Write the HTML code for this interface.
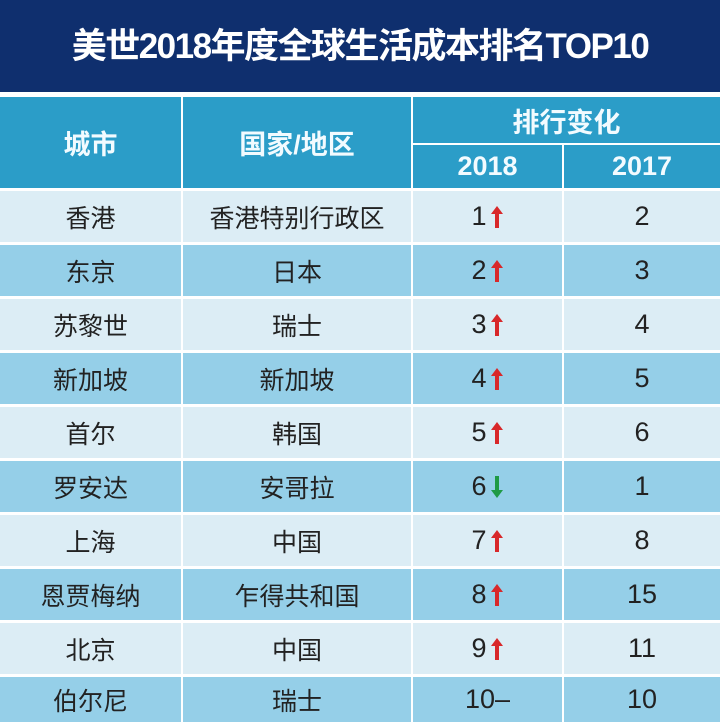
<!DOCTYPE html>
<html><head><meta charset="utf-8"><style>
*{margin:0;padding:0;box-sizing:border-box}
body{width:720px;height:721px;background:#fff;position:relative;overflow:hidden;font-family:"Liberation Sans","Noto Sans CJK SC",sans-serif}
.t{position:absolute;left:0;top:0;width:720px;height:92px;background:#0f2f6e;color:#fff;font-weight:bold;font-size:35px;text-align:center;line-height:94px;letter-spacing:-1.5px}
.c{position:absolute;display:flex;align-items:center;justify-content:center}
.h{background:#2b9dc8;color:#f2fbff;font-weight:bold;font-size:27px}
.l{background:#dcedf5;color:#222;font-size:25px}
.b{background:#95cfe8;color:#222;font-size:25px}
.n{font-size:27px}
svg{margin-left:3px}
</style></head><body>
<div class="t">美世2018年度全球生活成本排名TOP10</div>
<div class="c h" style="left:0;top:97px;width:181px;height:91px">城市</div>
<div class="c h" style="left:183px;top:97px;width:228px;height:91px">国家/地区</div>
<div class="c h" style="left:413px;top:97px;width:307px;height:46px">排行变化</div>
<div class="c h" style="left:413px;top:145px;width:149px;height:43px">2018</div>
<div class="c h" style="left:564px;top:145px;width:156px;height:43px">2017</div>
<div id="rows"></div>
<script>
var d=[["香港","香港特别行政区","1","u","2"],["东京","日本","2","u","3"],["苏黎世","瑞士","3","u","4"],["新加坡","新加坡","4","u","5"],["首尔","韩国","5","u","6"],["罗安达","安哥拉","6","d","1"],["上海","中国","7","u","8"],["恩贾梅纳","乍得共和国","8","u","15"],["北京","中国","9","u","11"],["伯尔尼","瑞士","10","n","10"]];
var up='<svg width="14" height="24" viewBox="0 0 14 24"><path d="M7 1 L13 9 H9 V23 H5 V9 H1 Z" fill="#d8282a"/></svg>';
var dn='<svg width="14" height="24" viewBox="0 0 14 24"><path d="M7 23 L13 15 H9 V1 H5 V15 H1 Z" fill="#1f9a45"/></svg>';
var h="";
for(var i=0;i<10;i++){var y=191+i*54,H=i==9?45:51,cl=i%2?"b":"l",r=d[i];
var a=r[3]=="u"?up:r[3]=="d"?dn:'–';
h+='<div class="c '+cl+'" style="left:0;top:'+y+'px;width:181px;height:'+H+'px">'+r[0]+'</div>';
h+='<div class="c '+cl+'" style="left:183px;top:'+y+'px;width:228px;height:'+H+'px">'+r[1]+'</div>';
h+='<div class="c '+cl+' n" style="left:413px;top:'+y+'px;width:149px;height:'+H+'px">'+r[2]+a+'</div>';
h+='<div class="c '+cl+' n" style="left:564px;top:'+y+'px;width:156px;height:'+H+'px">'+r[4]+'</div>';}
document.getElementById("rows").innerHTML=h;
</script>
</body></html>
